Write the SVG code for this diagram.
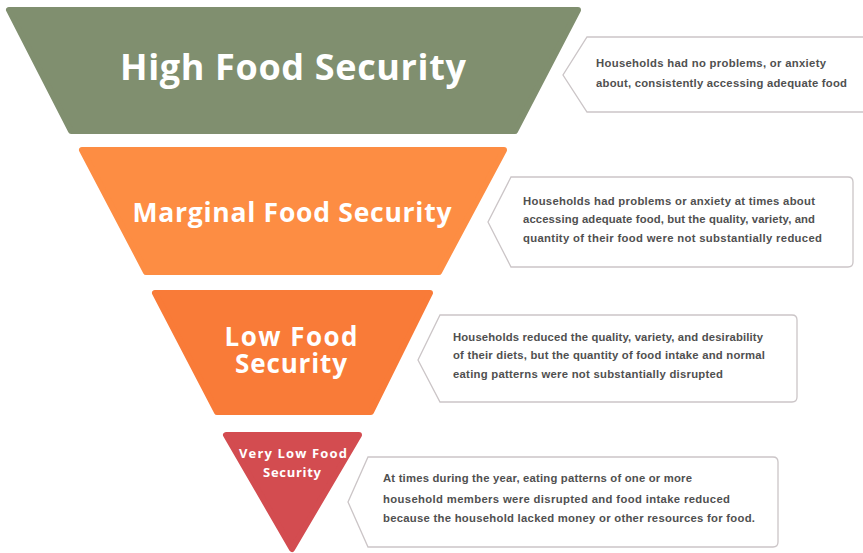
<svg xmlns="http://www.w3.org/2000/svg" width="863" height="553" viewBox="0 0 863 553">
<style>
.tier{stroke-linejoin:round;stroke-width:6}
.title{font-family:"Open Sans","Liberation Sans",sans-serif;font-weight:700;fill:#ffffff;text-anchor:middle}
.box{fill:#ffffff;stroke:#cbc5c7;stroke-width:1.3}
.desc{font-family:"Liberation Sans","DejaVu Sans",sans-serif;font-weight:700;font-size:11.3px;fill:#505050}
</style>
<rect x="0" y="0" width="863" height="553" fill="#ffffff"/>
<g id="high">
<polygon class="tier" points="9,10 578,10 515,131 71,131" fill="#808f6f" stroke="#808f6f"/>
<text class="title" x="293" y="80" font-size="36" textLength="346">High Food Security</text>
</g>
<g id="marginal">
<polygon class="tier" points="82,150 504,150 439,272 146,272" fill="#fd8d43" stroke="#fd8d43"/>
<text class="title" x="292" y="222" font-size="26.5" textLength="319">Marginal Food Security</text>
</g>
<g id="low">
<polygon class="tier" points="155,293 430,293 371,412 217,412" fill="#f97b38" stroke="#f97b38"/>
<text class="title" x="291" y="346" font-size="26" textLength="133">Low Food</text>
<text class="title" x="291" y="373" font-size="26" textLength="112">Security</text>
</g>
<g id="verylow">
<polygon class="tier" points="226,435 359,435 292,549" fill="#d34c50" stroke="#d34c50"/>
<text class="title" x="293" y="458" font-size="13" textLength="108">Very Low Food</text>
<text class="title" x="292" y="477" font-size="13" textLength="58">Security</text>
</g>
<g id="connectors"></g>
<g id="desc-high">
<path class="box" d="M587,37 H875 V112 H587 L563,75 Z"/>
<text class="desc" x="596" y="67" textLength="230">Households had no problems, or anxiety</text>
<text class="desc" x="596" y="87" textLength="251">about, consistently accessing adequate food</text>
</g>
<g id="desc-marginal">
<path class="box" d="M511,177 H848 Q853,177 853,182 V262 Q853,267 848,267 H511 L488,222 Z"/>
<text class="desc" x="523" y="205" textLength="292">Households had problems or anxiety at times about</text>
<text class="desc" x="523" y="223" textLength="292">accessing adequate food, but the quality, variety, and</text>
<text class="desc" x="523" y="242" textLength="299">quantity of their food were not substantially reduced</text>
</g>
<g id="desc-low">
<path class="box" d="M440,315 H792 Q797,315 797,320 V397 Q797,402 792,402 H440 L418,360 Z"/>
<text class="desc" x="453" y="341" textLength="310">Households reduced the quality, variety, and desirability</text>
<text class="desc" x="453" y="359" textLength="312">of their diets, but the quantity of food intake and normal</text>
<text class="desc" x="453" y="378" textLength="270">eating patterns were not substantially disrupted</text>
</g>
<g id="desc-verylow">
<path class="box" d="M368,457 H773 Q778,457 778,462 V542 Q778,547 773,547 H368 L348,502 Z"/>
<text class="desc" x="383" y="482" textLength="309">At times during the year, eating patterns of one or more</text>
<text class="desc" x="383" y="503" textLength="347">household members were disrupted and food intake reduced</text>
<text class="desc" x="383" y="522" textLength="372">because the household lacked money or other resources for food.</text>
</g>
</svg>
